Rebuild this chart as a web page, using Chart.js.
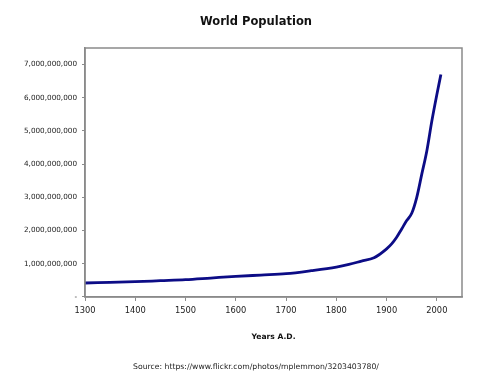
<!DOCTYPE html>
<html>
<head>
<meta charset="utf-8">
<script src="https://cdn.jsdelivr.net/npm/chart.js@4/dist/chart.umd.min.js"></script>
<style>
  html, body { margin: 0; padding: 0; background: #ffffff; }
  #wrap { width: 500px; height: 375px; position: relative; }
</style>
</head>
<body>
<div id="wrap"><canvas id="c"></canvas></div>
<script>
const titleText = "World Population";
const xTitle = "Years A.D.";
const sourceText = "Source: https://www.flickr.com/photos/mplemmon/3203403780/";

const years = [1300, 1350, 1400, 1450, 1500, 1550, 1600, 1650, 1700, 1750, 1800, 1825, 1850, 1875, 1900, 1910, 1920, 1930, 1940, 1950, 1960, 1970, 1980, 1990, 2000, 2008];
const population = [420e6, 440e6, 460e6, 490e6, 520e6, 570e6, 620e6, 660e6, 700e6, 790e6, 900e6, 980e6, 1080e6, 1180e6, 1450e6, 1600e6, 1800e6, 2050e6, 2300e6, 2520e6, 3000e6, 3700e6, 4400e6, 5300e6, 6100e6, 6700e6];

const xTicks = [1300, 1400, 1500, 1600, 1700, 1800, 1900, 2000];
const yTicks = [0, 1e9, 2e9, 3e9, 4e9, 5e9, 6e9, 7e9];

const points = years.map((yr, i) => ({ x: yr, y: population[i] }));

const frame = {
  id: 'frame',
  afterDraw(chart) {
    const a = chart.chartArea, ctx = chart.ctx;
    ctx.save();
    ctx.strokeStyle = '#8a8a8a';
    ctx.lineWidth = 1.5;
    ctx.strokeRect(a.left, a.top, a.right - a.left, a.bottom - a.top);
    ctx.restore();
  }
};

new Chart(document.getElementById('c'), {
  type: 'line',
  data: {
    datasets: [{
      data: points,
      borderColor: '#0c0c86',
      borderWidth: 2.8,
      pointRadius: 0,
      cubicInterpolationMode: 'monotone',
      fill: false
    }]
  },
  options: {
    responsive: true,
    maintainAspectRatio: false,
    animation: false,
    layout: { padding: { left: 12, right: 0, top: 0, bottom: 0 } },
    plugins: {
      legend: { display: false },
      tooltip: { enabled: false },
      title: {
        display: true,
        text: titleText,
        color: '#111111',
        font: { family: 'DejaVu Sans', size: 11.5, weight: 'bold', lineHeight: 1.2 },
        padding: { top: 15.1, bottom: 19.1 }
      },
      subtitle: {
        display: true,
        position: 'bottom',
        text: sourceText,
        color: '#222222',
        font: { family: 'DejaVu Sans', size: 7.7, weight: 'normal', lineHeight: 1.2 },
        padding: { top: 0, bottom: 3.4 }
      }
    },
    scales: {
      x: {
        type: 'linear',
        min: 1300,
        max: 2050,
        afterBuildTicks(scale) { scale.ticks = xTicks.map(v => ({ value: v })); },
        afterFit(scale) { scale.height = 65.4; },
        grid: { drawOnChartArea: false, drawTicks: true, tickLength: 4, color: '#8a8a8a' },
        border: { display: true, color: '#8a8a8a', width: 1.5 },
        ticks: {
          color: '#222222',
          padding: 5,
          maxRotation: 0,
          autoSkip: false,
          font: { family: 'DejaVu Sans', size: 8.3 },
          callback: (v) => String(v)
        },
        title: {
          display: true,
          text: xTitle,
          color: '#111111',
          font: { family: 'DejaVu Sans', size: 7.6, weight: 'bold', lineHeight: 1.2 },
          padding: { top: 0, bottom: 20.8 }
        }
      },
      y: {
        type: 'linear',
        position: 'left',
        min: 0,
        max: 7.5e9,
        afterBuildTicks(scale) { scale.ticks = yTicks.map(v => ({ value: v })); },
        afterFit(scale) { scale.width = 73; },
        grid: { drawOnChartArea: false, drawTicks: true, tickLength: 3, color: '#8a8a8a' },
        border: { display: true, color: '#8a8a8a', width: 1.5 },
        ticks: {
          color: '#222222',
          padding: 5,
          autoSkip: false,
          font: { family: 'DejaVu Sans', size: 7.25 },
          callback: (v) => v === 0 ? '-' : Number(v).toLocaleString('en-US')
        }
      },
      yRight: {
        type: 'linear',
        axis: 'y',
        position: 'right',
        display: true,
        min: 0,
        max: 7.5e9,
        afterFit(scale) { scale.width = 38; },
        grid: { display: false, drawTicks: false },
        border: { display: false },
        ticks: { display: false }
      }
    }
  },
  plugins: [frame]
});
</script>
</body>
</html>
